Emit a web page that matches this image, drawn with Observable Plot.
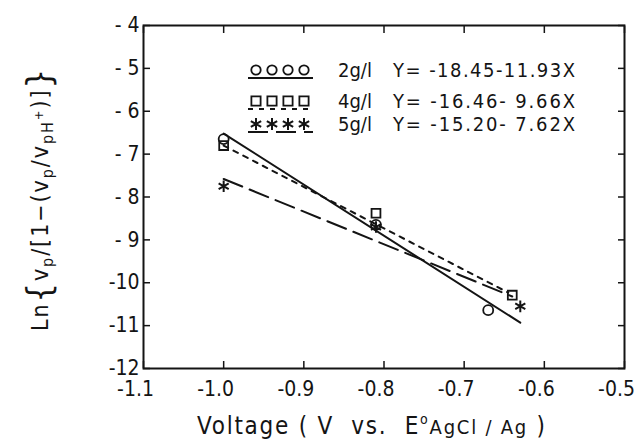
<!DOCTYPE html>
<html><head><meta charset="utf-8">
<script src="https://cdn.jsdelivr.net/npm/d3@7"></script>
<script src="https://cdn.jsdelivr.net/npm/@observablehq/plot@0.6"></script>
<style>
html,body{margin:0;padding:0;background:#fff;}
#chart{position:relative;width:640px;height:441px;}
</style></head><body><div id="chart"></div>
<script>
const xTicks = [-1.1, -1.0, -0.9, -0.8, -0.7, -0.6, -0.5];
const yTicks = [-4, -5, -6, -7, -8, -9, -10, -11, -12];
const seriesNames = ["2g/l", "4g/l", "5g/l"];
const equations = ["Y= -18.45-11.93X", "Y= -16.46- 9.66X", "Y= -15.20- 7.62X"];
const circleX = [-1.0, -0.81, -0.67];
const circleY = [-6.65, -8.65, -10.64];
const squareX = [-1.0, -0.81, -0.64];
const squareY = [-6.8, -8.38, -10.29];
const starX = [-1.0, -0.81, -0.63];
const starY = [-7.75, -8.7, -10.55];
const fit2X = [-1.0, -0.63], fit2Y = [-6.52, -10.93];
const fit4X = [-1.0, -0.645], fit4Y = [-6.8, -10.23];
const fit5X = [-1.0, -0.64], fit5Y = [-7.58, -10.32];

const zip = (xs, ys) => xs.map((x, i) => ({x, y: ys[i]}));
const FONT = '"DejaVu Sans Condensed","DejaVu Sans",sans-serif';
const INK = "#141414";
const fmtX = d => "-" + Math.abs(d).toFixed(1);
const fmtY = d => d > -10 ? "- " + Math.abs(d) : "-" + Math.abs(d);

const plot = Plot.plot({
  width: 640, height: 441,
  marginTop: 25, marginRight: 16, marginBottom: 73, marginLeft: 143,
  x: {domain: [-1.1, -0.5]},
  y: {domain: [-12, -4]},
  style: {fontFamily: FONT, color: INK, background: "#fff"},
  marks: [
    Plot.line(zip(fit2X, fit2Y), {x: "x", y: "y", stroke: INK, strokeWidth: 2}),
    Plot.line(zip(fit4X, fit4Y), {x: "x", y: "y", stroke: INK, strokeWidth: 2, strokeDasharray: "5,6"}),
    Plot.line(zip(fit5X, fit5Y), {x: "x", y: "y", stroke: INK, strokeWidth: 2, strokeDasharray: "20,8"}),
    Plot.dot(zip(circleX, circleY), {x: "x", y: "y", symbol: "circle", r: 5, stroke: INK, strokeWidth: 1.8}),
    Plot.dot(zip(squareX, squareY), {x: "x", y: "y", symbol: "square", r: 5, stroke: INK, strokeWidth: 1.8}),
    Plot.dot(zip(starX, starY), {x: "x", y: "y", symbol: "asterisk", r: 5.5, stroke: INK, strokeWidth: 2}),
    Plot.frame({stroke: INK, strokeWidth: 2}),
    Plot.axisX(xTicks, {anchor: "bottom", tickSize: -7, tickFormat: () => "", label: null, strokeWidth: 1.5}),
    Plot.axisX(xTicks, {anchor: "top", tickSize: -7, tickFormat: () => "", label: null, strokeWidth: 1.5}),
    Plot.axisX(xTicks, {anchor: "bottom", tickSize: 0, tickPadding: 13, dx: -8, tickFormat: fmtX, label: null, fontSize: 21}),
    Plot.axisY(yTicks, {anchor: "left", tickSize: -7, tickFormat: () => "", label: null, strokeWidth: 1.5}),
    Plot.axisY(yTicks, {anchor: "right", tickSize: -7, tickFormat: () => "", label: null, strokeWidth: 1.5}),
    Plot.axisY(yTicks, {anchor: "left", tickSize: 0, tickPadding: 4, tickFormat: fmtY, label: null, fontSize: 21})
  ]
});
document.getElementById("chart").appendChild(plot);

const svg = d3.select(plot);
// legend
const leg = svg.append("g").attr("fill", "none").attr("stroke", INK);
const rowsY = [70, 101, 124];
const symX = [256, 272, 288, 304];
const symbols = [d3.symbolCircle, d3.symbolSquare, d3.symbolAsterisk];
const sizes = [70, 85, 100];
const dashes = [null, "5,6", "20,8"];
rowsY.forEach((ry, i) => {
  symX.forEach(sx => {
    leg.append("path").attr("d", d3.symbol(symbols[i], sizes[i])())
      .attr("transform", `translate(${sx},${ry})`).attr("stroke-width", i === 2 ? 2 : 1.8);
  });
  leg.append("line").attr("x1", 248).attr("x2", 313).attr("y1", ry + 8).attr("y2", ry + 8)
    .attr("stroke-width", 2).attr("stroke-dasharray", dashes[i]);
  svg.append("text").attr("x", 338).attr("y", ry + 7).attr("fill", INK).attr("text-anchor", "start")
    .attr("font-family", FONT).attr("font-size", 20).text(seriesNames[i]);
  svg.append("text").attr("x", 393).attr("y", ry + 7).attr("fill", INK).attr("text-anchor", "start")
    .attr("font-family", FONT).attr("font-size", 20)
    .attr("textLength", 182).attr("lengthAdjust", "spacing").text(equations[i]);
});

// x title
const xt = svg.append("text").attr("x", 197).attr("y", 434).attr("text-anchor", "start")
  .attr("fill", INK).attr("font-family", FONT).attr("font-size", 24)
  .attr("textLength", 348).attr("lengthAdjust", "spacing");
xt.append("tspan").text("Voltage ( V  vs.  E");
xt.append("tspan").attr("font-size", 14).attr("dy", -10).text("o");
xt.append("tspan").attr("font-size", 20).attr("dy", 10).text("AgCl / Ag");
xt.append("tspan").text(" )");

// y title
const yt = svg.append("text").attr("transform", "translate(48,200) rotate(-90)")
  .attr("text-anchor", "middle").attr("fill", INK).attr("font-family", FONT).attr("font-size", 23)
  .attr("textLength", 262).attr("lengthAdjust", "spacing");
yt.append("tspan").text("Ln");
yt.append("tspan").attr("font-size", 34).attr("dy", 3).text("{");
yt.append("tspan").attr("dy", -3).text("v");
yt.append("tspan").attr("font-size", 16).attr("dy", 5).text("p");
yt.append("tspan").attr("dy", -5).text("/[1−(v");
yt.append("tspan").attr("font-size", 16).attr("dy", 5).text("p");
yt.append("tspan").attr("dy", -5).text("/v");
yt.append("tspan").attr("font-size", 16).attr("dy", 5).text("pH");
yt.append("tspan").attr("font-size", 13).attr("dy", -10).text("+");
yt.append("tspan").attr("dy", 5).text(")]");
yt.append("tspan").attr("font-size", 34).attr("dy", 3).text("}");
</script>
</body></html>
